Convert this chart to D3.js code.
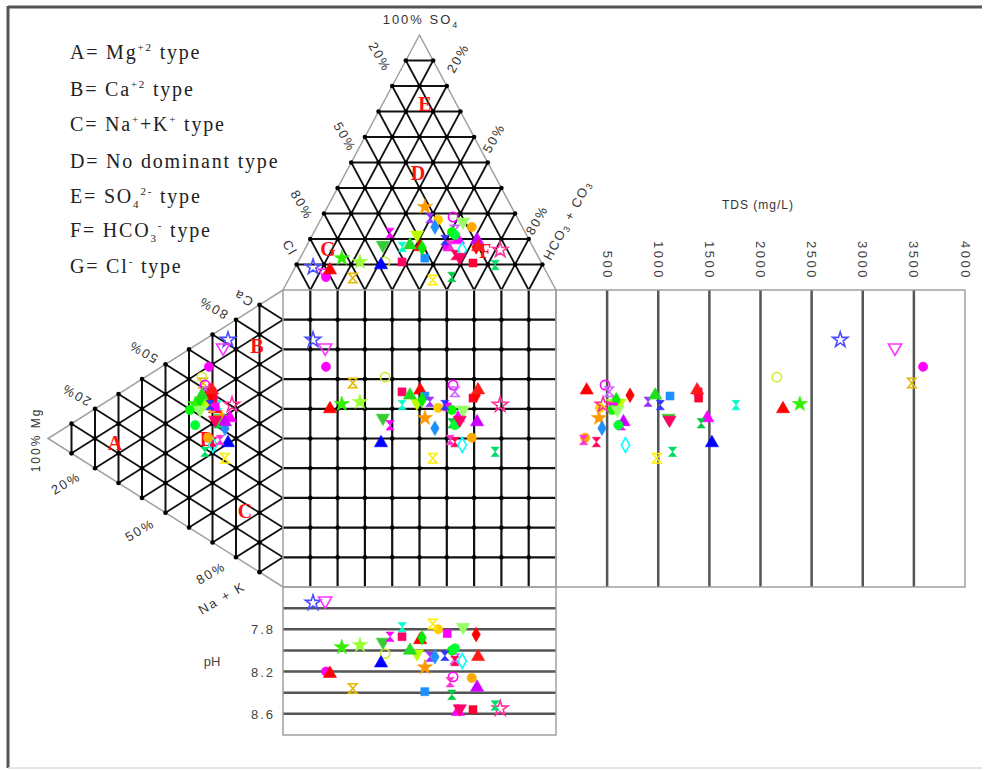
<!DOCTYPE html>
<html><head><meta charset="utf-8">
<script src="https://cdn.jsdelivr.net/npm/d3@7/dist/d3.min.js"></script>
<style>body{margin:0;background:#fff}</style>
</head><body>
<svg id="c" width="986" height="771"></svg>
<script>
// ---------------- DATA ----------------
const sampleIds = d3.range(1, 44).map(i => "S" + i);
// cations (% meq)
const caPct  = [71.5,67.8,58.4,51.7,53.4,45.5,42.9,45.7,50.6,47.4,43.5,42.1,36.8,50.7,49.2,45.4,45.4,47.9,43.9,45.2,41.1,51.4,49.8,46.2,39.8,48.7,49.0,45.6,43.2,41.3,33.9,32.9,34.3,50.5,28.9,31.0,42.0,51.2,47.3,45.7,35.8,36.1,41.8];
const mgPct  = [23.4,25.5,31.5,34.0,34.5,28.9,37.4,33.2,30.2,27.7,26.8,24.7,23.4,31.1,30.2,33.2,35.3,28.9,26.0,30.2,24.7,33.2,31.9,28.9,39.6,29.8,31.1,22.6,24.7,27.7,29.8,29.8,31.9,21.7,33.2,24.7,35.3,30.2,34.5,31.1,37.4,26.8,28.9];
const naKPct = [5.1,6.7,10.1,14.3,12.1,25.6,19.7,21.1,19.2,24.9,29.7,33.2,39.8,18.2,20.6,21.4,19.3,23.2,30.1,24.6,34.2,15.4,18.3,24.9,20.6,21.5,19.9,31.8,32.1,31.0,36.3,37.3,33.8,27.8,37.9,44.3,22.7,18.6,18.2,23.2,26.8,37.1,29.3];
// anions (% meq)
const clPct   = [84.5,81.2,81.7,72.1,57.1,78.9,72.2,66.3,50.9,47.9,54.6,49.6,59.2,41.3,41.8,40.1,40.8,32.1,31.7,29.4,32.0,23.4,25.3,31.4,26.8,25.1,20.8,26.1,19.1,35.6,30.2,26.5,18.5,12.6,17.4,43.2,20.7,20.1,44.7,30.9,26.2,30.0,28.8];
const so4Pct  = [9.0,6.7,5.1,4.7,11.0,7.8,12.5,11.0,11.0,16.9,17.6,22.4,9.8,16.9,12.5,21.6,16.5,28.2,32.6,27.5,24.7,28.6,23.5,16.9,22.7,10.6,16.9,19.6,19.6,5.1,13.7,15.7,24.7,15.7,9.8,3.9,26.7,16.9,17.6,19.6,21.6,17.6,12.9];
const hco3Pct = [6.5,12.1,13.2,23.2,31.9,13.3,15.3,22.7,38.1,35.2,27.8,28.0,31.0,41.8,45.7,38.3,42.7,39.7,35.7,43.1,43.3,48.0,51.2,51.7,50.5,64.3,62.3,54.3,61.3,59.3,56.1,57.8,56.8,71.7,72.8,52.9,52.6,63.0,37.7,49.5,52.2,52.4,58.3];
const tdsMgL  = [2780,3315,3590,3480,2160,2220,2385,560,1390,1760,1100,640,1525,300,1115,620,590,900,420,430,450,480,520,560,550,1395,724,1480,660,1420,395,680,285,460,1140,985,600,1380,970,1020,610,270,1110];
const phValues = [7.55,7.53,8.20,8.36,8.03,8.22,7.97,7.95,7.87,7.78,7.92,7.87,8.12,7.90,8.39,8.03,7.88,8.06,8.16,7.80,8.06,8.25,8.08,7.84,8.00,8.56,7.85,8.58,8.35,8.42,8.10,8.10,8.26,8.55,8.52,7.75,7.78,8.06,8.00,8.05,7.98,8.30,8.55];

const tdsTicks = [500,1000,1500,2000,2500,3000,3500,4000];
const phLines = [7.6,7.8,8.0,8.2,8.4,8.6];
const phTickLabels = [7.8,8.2,8.6];
const gridPct = [10,20,30,40,50,60,70,80,90];

// marker styles (per sample)
const markerShapes = ["star","triDown","circle","hourglass","circle","triangle","star","star","square","hourglass","triDown","hourglass","triangle","triangle","square","triDown","diamond","hourglass","star","circle","diamond","circle","hourglass","square","circle","square","diamond","triangle","triangle","hourglass","hourglass","diamond","circle","star","hourglass","hourglass","triDown","triangle","triangle","hourglass","circle","hourglass","triDown"];
const markerColors = ["#4d4dff","#ff33ff","#ff00ff","#e6b800","#ccee33","#ff0000","#33ee00","#99ff33","#ff0066","#00ffcc","#33cc33","#ff00ff","#0000ff","#ff0000","#1e90ff","#bbff00","#00ee00","#9933ff","#ff9900","#ffcc00","#1e90ff","#ff00ff","#cc66ff","#ff00ff","#00ff00","#ff0033","#ff0000","#ff00ff","#cc00ff","#00cc44","#ff0055","#00ffff","#ffaa00","#ff3399","#00dd66","#ffee00","#99ff66","#ff1a1a","#22dd22","#3333ff","#00ff33","#ff33cc","#ff0066"];
const markerFilled = [false,false,true,false,false,true,true,true,true,true,true,true,true,true,true,true,true,true,true,true,true,false,false,true,true,true,true,true,true,true,true,false,true,false,true,false,true,true,true,true,true,true,true];

// ---------------- SCALES ----------------
const svg = d3.select("#c");
const anionX = d3.scaleLinear().domain([0,100]).range([283,556]);   // HCO3 + SO4/2
const cationY = d3.scaleLinear().domain([0,100]).range([290,587]);  // NaK + Mg/2
const so4Y = d3.scaleLinear().domain([0,100]).range([290,35]);
const mgX = d3.scaleLinear().domain([0,100]).range([283,48]);
const tdsX = d3.scaleLinear().domain([0,4000]).range([556,965]);
const phY = d3.scaleLinear().domain([7.4,8.8]).range([587,735]);

const aIdx = i => hco3Pct[i] + so4Pct[i]/2;
const cIdx = i => naKPct[i] + mgPct[i]/2;

// ---------------- FRAME ----------------
svg.append("line").attr("x1",8).attr("x2",982).attr("y1",7).attr("y2",7).attr("stroke","#555").attr("stroke-width",3);
svg.append("line").attr("x1",8).attr("x2",8).attr("y1",6).attr("y2",768).attr("stroke","#555").attr("stroke-width",3);
svg.append("line").attr("x1",8).attr("x2",982).attr("y1",768).attr("y2",768).attr("stroke","#ddd").attr("stroke-width",1.5);

const gridColor = "#111", outline = "#a0a0a0";
const G = svg.append("g");
function ln(x1,y1,x2,y2,col,w){ G.append("line").attr("x1",x1).attr("y1",y1).attr("x2",x2).attr("y2",y2).attr("stroke",col).attr("stroke-width",w); }
function dot(x,y){ G.append("circle").attr("cx",x).attr("cy",y).attr("r",2.3).attr("fill","#000"); }

// ---------------- TOP (ANION) TRIANGLE ----------------
gridPct.forEach(p => {
  ln(anionX(p/2), so4Y(p), anionX(100-p/2), so4Y(p), gridColor, 2);               // const SO4
  ln(anionX(p), so4Y(0), anionX(p + (100-p)/2), so4Y(100-p), gridColor, 1.8);      // const HCO3
  ln(anionX(100-p), so4Y(0), anionX((100-p)/2), so4Y(100-p), gridColor, 1.8);      // const Cl
});
G.append("path").attr("d", d3.line()([[anionX(0),so4Y(0)],[anionX(50),so4Y(100)],[anionX(100),so4Y(0)]])).attr("fill","none").attr("stroke",outline).attr("stroke-width",1.5);
for (let s=10; s<100; s+=10) for (let h=0; h<=100-s; h+=10) dot(anionX(h+s/2), so4Y(s));

// ---------------- LEFT (CATION) TRIANGLE ----------------
gridPct.forEach(p => {
  ln(mgX(p), cationY(p/2), mgX(p), cationY(100-p/2), gridColor, 2);               // const Mg
  ln(mgX(0), cationY(p), mgX(100-p), cationY(p + (100-p)/2), gridColor, 1.8);      // const NaK
  ln(mgX(0), cationY(100-p), mgX(100-p), cationY((100-p)/2), gridColor, 1.8);      // const Ca
});
G.append("path").attr("d", d3.line()([[mgX(0),cationY(0)],[mgX(100),cationY(50)],[mgX(0),cationY(100)]])).attr("fill","none").attr("stroke",outline).attr("stroke-width",1.5);
for (let m=10; m<100; m+=10) for (let n=0; n<=100-m; n+=10) dot(mgX(m), cationY(n+m/2));

// ---------------- SQUARE ----------------
gridPct.forEach(p => {
  ln(anionX(p), cationY(0), anionX(p), cationY(100), gridColor, 2.2);
  ln(anionX(0), cationY(p), anionX(100), cationY(p), gridColor, 2.2);
});
gridPct.forEach(px => gridPct.forEach(py => dot(anionX(px), cationY(py))));
G.append("rect").attr("x",anionX(0)).attr("y",cationY(0)).attr("width",anionX(100)-anionX(0)).attr("height",cationY(100)-cationY(0)).attr("fill","none").attr("stroke",outline).attr("stroke-width",1.5);

// ---------------- TDS PANEL ----------------
tdsTicks.filter(t => t < 4000).forEach(t => ln(tdsX(t), cationY(0), tdsX(t), cationY(100), "#555", 2.5));
G.append("rect").attr("x",tdsX(0)).attr("y",cationY(0)).attr("width",tdsX(4000)-tdsX(0)).attr("height",cationY(100)-cationY(0)).attr("fill","none").attr("stroke",outline).attr("stroke-width",1.5);
tdsTicks.forEach(t => {
  svg.append("text").attr("transform",`translate(${tdsX(t)-4.5},280) rotate(90)`).attr("text-anchor","end")
    .attr("font-family","Liberation Sans, Arial").attr("font-size",13).attr("letter-spacing",2.5).attr("fill","#444").text(t);
});
svg.append("text").attr("x",758).attr("y",209).attr("text-anchor","middle").attr("font-family","Liberation Sans, Arial").attr("font-size",12).attr("letter-spacing",1).attr("fill","#333").text("TDS (mg/L)");

// ---------------- pH PANEL ----------------
phLines.forEach(v => ln(anionX(0), phY(v), anionX(100), phY(v), "#555", 2.5));
G.append("rect").attr("x",anionX(0)).attr("y",phY(7.4)).attr("width",anionX(100)-anionX(0)).attr("height",phY(8.8)-phY(7.4)).attr("fill","none").attr("stroke",outline).attr("stroke-width",1.5);
phTickLabels.forEach(v => {
  svg.append("text").attr("x",275).attr("y",phY(v)+5).attr("text-anchor","end").attr("font-family","Liberation Sans, Arial")
    .attr("font-size",13).attr("letter-spacing",2).attr("fill","#444").text(v.toFixed(1));
});
svg.append("text").attr("x",212).attr("y",666).attr("text-anchor","middle").attr("font-family","Liberation Sans, Arial").attr("font-size",13).attr("fill","#444").text("pH");

// ---------------- AXIS LABELS ----------------
function lab(x,y,rot,txt,size){
  return svg.append("text").attr("transform",`translate(${x},${y}) rotate(${rot})`).attr("text-anchor","middle")
    .attr("dominant-baseline","central").attr("font-family","Liberation Sans, Arial").attr("font-size",size||13)
    .attr("letter-spacing",2).attr("fill","#333").text(txt);
}
const t100 = svg.append("text").attr("x",421).attr("y",24).attr("text-anchor","middle").attr("font-family","Liberation Sans, Arial").attr("font-size",13).attr("letter-spacing",2).attr("fill","#333");
t100.append("tspan").text("100% SO");
t100.append("tspan").attr("font-size",9).attr("dy",4).text("4");
lab(380,57,60,"20%"); lab(345,137,60,"50%"); lab(302,205,60,"80%"); lab(290,248,60,"Cl");
lab(458,58,-60,"20%"); lab(494,138,-60,"50%"); lab(537,220,-60,"80%");
const th = svg.append("text").attr("transform","translate(567,220) rotate(-62)").attr("text-anchor","middle").attr("dominant-baseline","central")
  .attr("font-family","Liberation Sans, Arial").attr("font-size",13).attr("letter-spacing",1.5).attr("fill","#333");
th.append("tspan").text("HCO"); th.append("tspan").attr("font-size",9).attr("dy",4).text("3");
th.append("tspan").attr("dy",-4).text(" + CO"); th.append("tspan").attr("font-size",9).attr("dy",4).text("3");
lab(243,298,210,"Ca"); lab(213,308,210,"80%"); lab(143,352,210,"50%"); lab(76,395,210,"20%");
lab(36,440,-90,"100% Mg",12);
lab(66,483,-30,"20%"); lab(140,530,-30,"50%"); lab(211,573,-30,"80%"); lab(222,598,-30,"Na + K");

// ---------------- ZONE LETTERS ----------------
const zoneLetters = [["E",425,104],["D",418,173],["G",328,249],["F",485,251],["B",257,346],["A",115,443],["D",207,439],["C",245,511]];
zoneLetters.forEach(([t,x,y]) => svg.append("text").attr("x",x).attr("y",y).attr("text-anchor","middle").attr("dominant-baseline","central")
  .attr("font-family","Liberation Serif, Times New Roman").attr("font-size",20).attr("font-weight","bold").attr("fill","#ff1010").text(t));

// ---------------- LEGEND ----------------
const legendRows = [
  [["A= Mg",0],["+2",1],[" type",0]],
  [["B= Ca",0],["+2",1],[" type",0]],
  [["C= Na",0],["+",1],["+K",0],["+",1],[" type",0]],
  [["D= No dominant type",0]],
  [["E= SO",0],["4",2],["2-",1],[" type",0]],
  [["F= HCO",0],["3",2],["-",1],[" type",0]],
  [["G= Cl",0],["-",1],[" type",0]]
];
const legendY = [59,96,131,168,203,237,273];
legendRows.forEach((row,i) => {
  const t = svg.append("text").attr("x",70).attr("y",legendY[i]).attr("font-family","Liberation Serif, Times New Roman")
    .attr("font-size",20).attr("letter-spacing",1.8).attr("fill","#222");
  let prev = 0;
  row.forEach(([s,k]) => {
    const off = k===1 ? -8 : k===2 ? 5 : 0;
    const sp = t.append("tspan").text(s).attr("dy", off - prev);
    if (k) sp.attr("font-size",11);
    prev = off;
  });
});

// ---------------- MARKERS ----------------
const hourglass = { draw(ctx, size){ const r = Math.sqrt(size)/2; ctx.moveTo(-r,-r*1.15); ctx.lineTo(r,-r*1.15); ctx.lineTo(-r,r*1.15); ctx.lineTo(r,r*1.15); ctx.closePath(); } };
const symTypes = {triangle:d3.symbolTriangle, triDown:d3.symbolTriangle, circle:d3.symbolCircle, square:d3.symbolSquare, diamond:d3.symbolDiamond, star:d3.symbolStar, hourglass:hourglass};
const symSize = {triangle:75, triDown:75, circle:68, square:64, diamond:62, star:72, hourglass:68};
const M = svg.append("g");
function drawMarkers(xy){
  const g = M.append("g");
  g.selectAll("path").data(sampleIds).join("path")
    .attr("d",(d,i) => d3.symbol().type(symTypes[markerShapes[i]]).size(symSize[markerShapes[i]])())
    .attr("transform",(d,i) => { const [x,y] = xy(i); return `translate(${x},${y})` + (markerShapes[i]==="triDown" ? " rotate(180)" : ""); })
    .attr("fill",(d,i) => markerFilled[i] ? markerColors[i] : "none")
    .attr("stroke",(d,i) => markerColors[i])
    .attr("stroke-width",(d,i) => markerFilled[i] ? 0.6 : 1.6);
}
drawMarkers(i => [anionX(aIdx(i)), so4Y(so4Pct[i])]);
drawMarkers(i => [mgX(mgPct[i]), cationY(cIdx(i))]);
drawMarkers(i => [anionX(aIdx(i)), cationY(cIdx(i))]);
drawMarkers(i => [tdsX(tdsMgL[i]), cationY(cIdx(i))]);
drawMarkers(i => [anionX(aIdx(i)), phY(phValues[i])]);
</script>
</body></html>
